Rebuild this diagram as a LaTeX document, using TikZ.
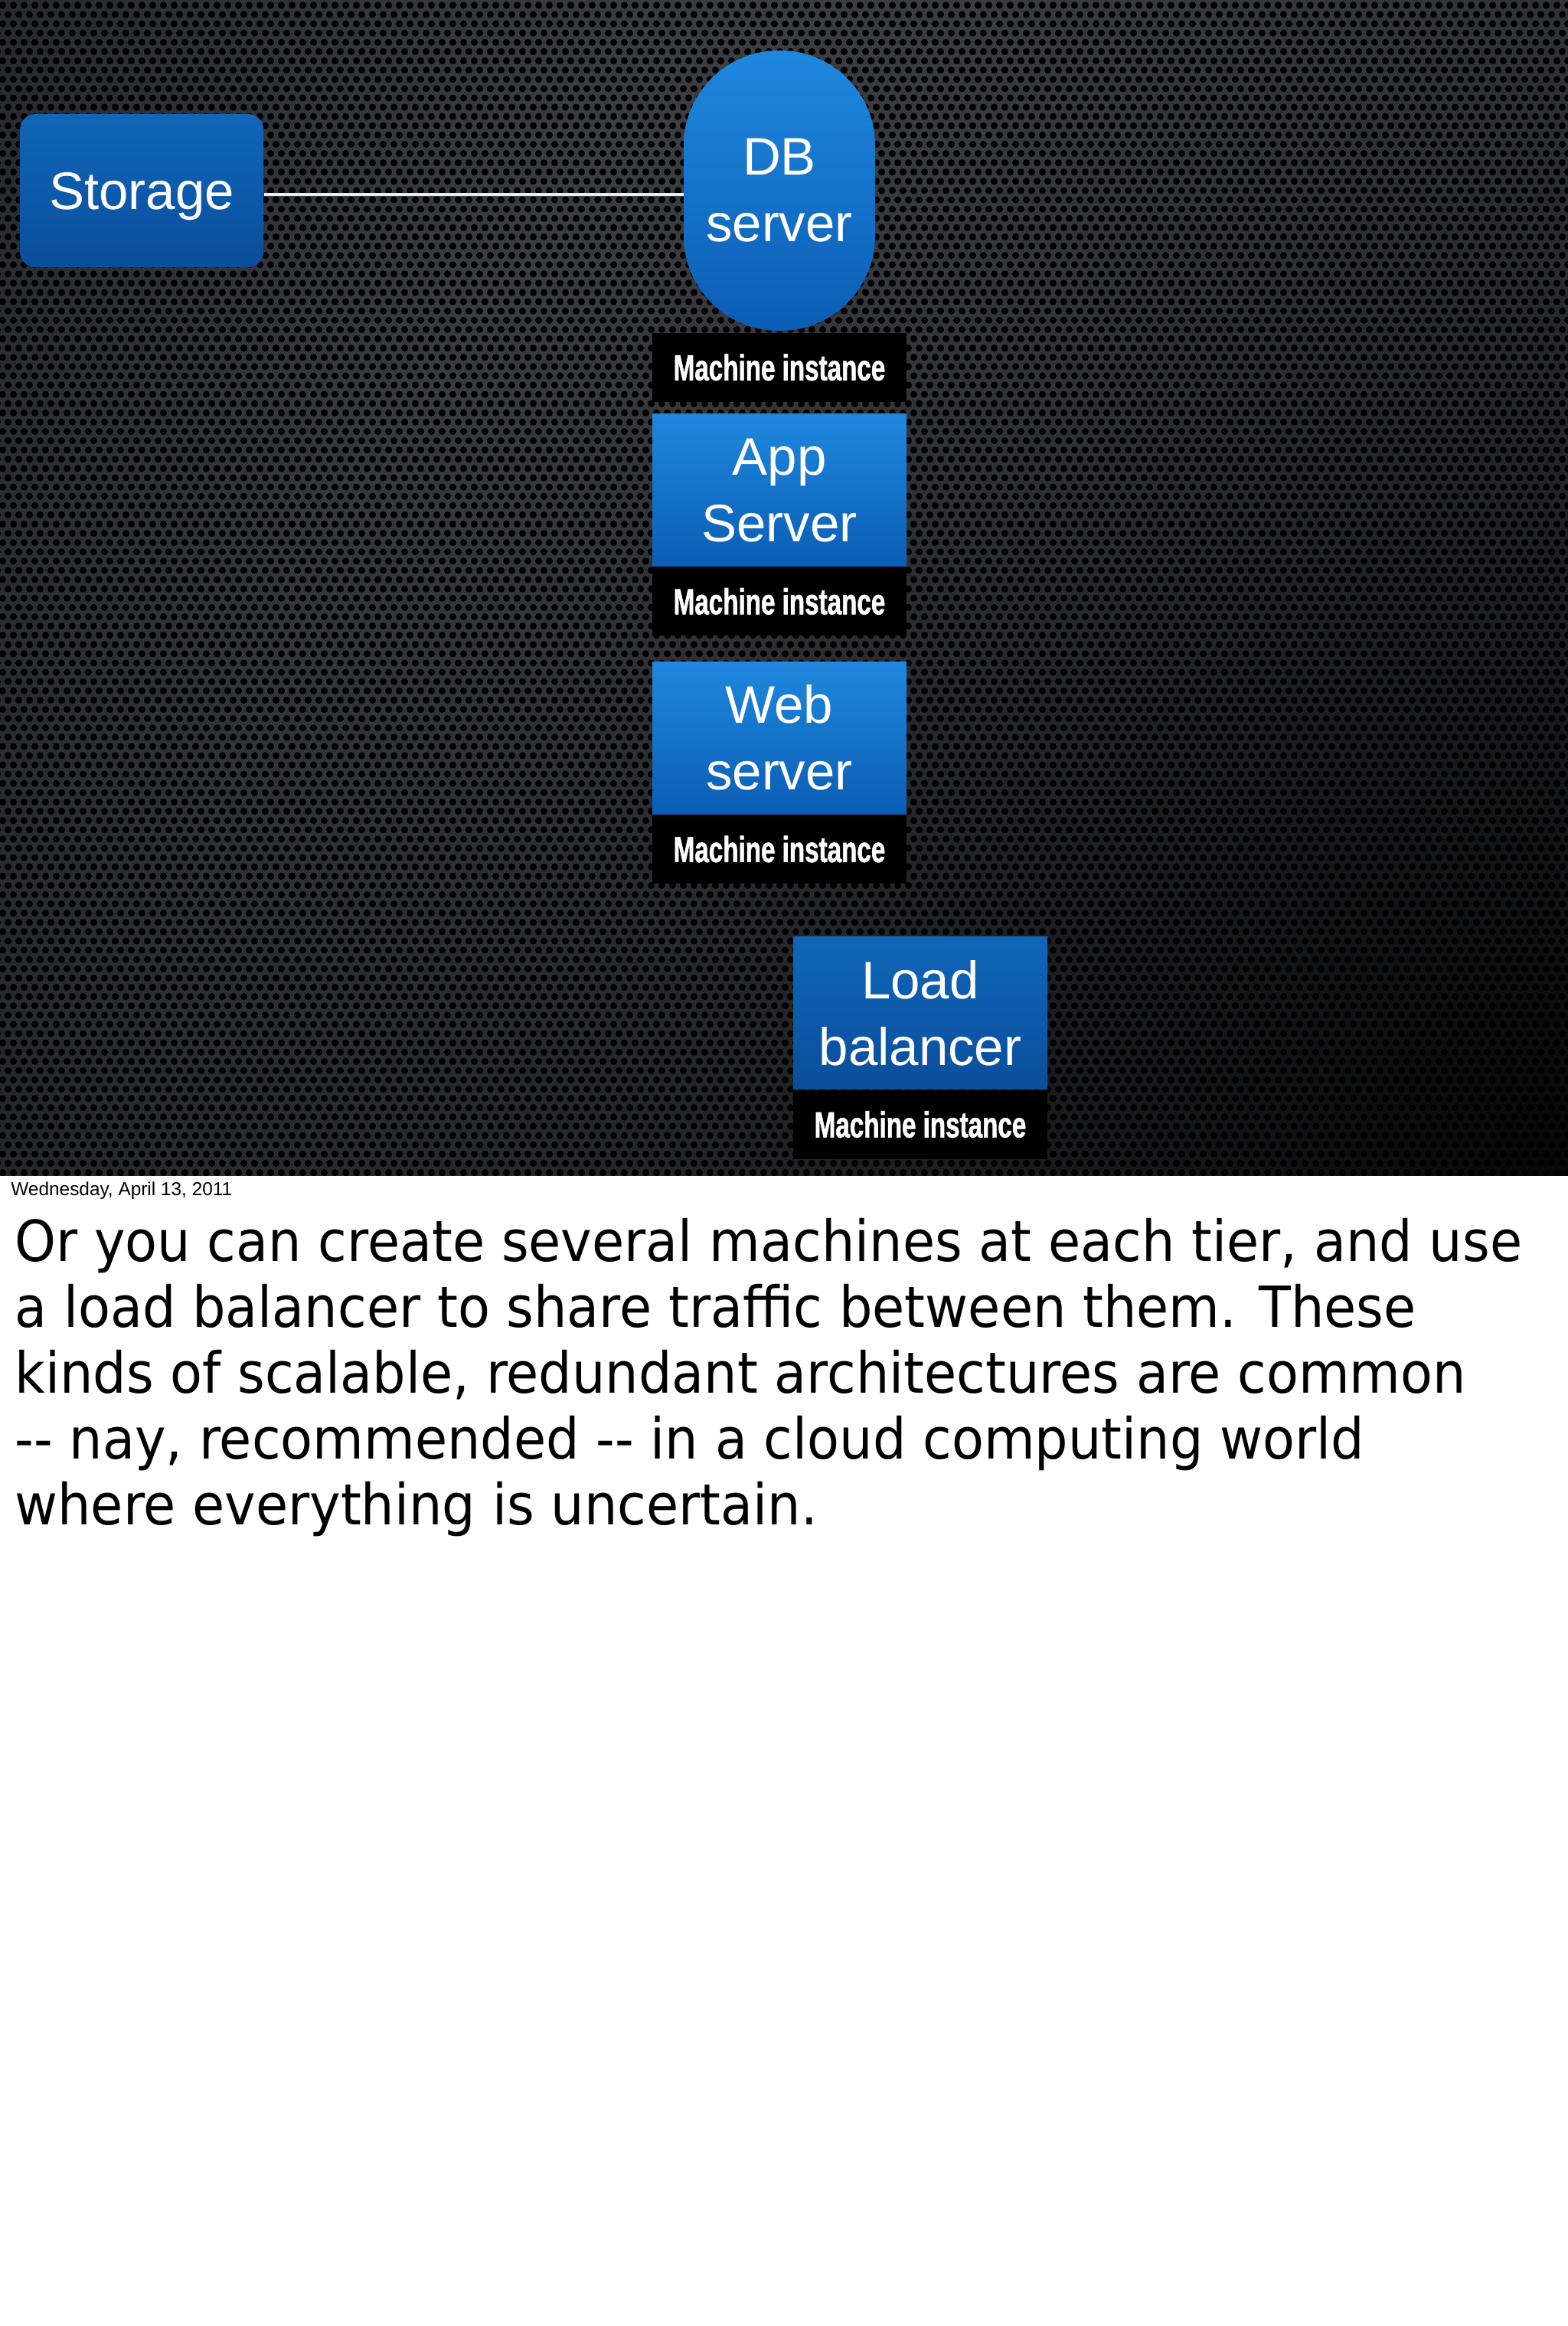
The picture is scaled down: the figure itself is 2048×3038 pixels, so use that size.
\documentclass[tikz,border=0pt]{standalone}
\usepackage{fontspec}
\setmainfont{Liberation Sans}
\newfontfamily\notefont[FakeStretch=0.926]{DejaVu Sans}
\newfontfamily\condfont[FakeStretch=0.70,FakeBold=1.2]{Liberation Sans}
\usetikzlibrary{positioning,patterns.meta,fadings}

\definecolor{bluetop}{HTML}{1E88DE}
\definecolor{bluebot}{HTML}{0B5DB4}
\definecolor{deeptop}{HTML}{1066B8}
\definecolor{deepbot}{HTML}{0A4E9C}
\definecolor{met0}{HTML}{46474B}
\definecolor{met1}{HTML}{3B3C40}
\definecolor{met2}{HTML}{27282B}
\definecolor{met3}{HTML}{151617}
\definecolor{met4}{HTML}{09090A}
\definecolor{met5}{HTML}{040404}

\pgfdeclareradialshading{metal}{\pgfpoint{0bp}{0bp}}{color(0bp)=(met0); color(10bp)=(met1);
  color(20bp)=(met2); color(30bp)=(met3); color(40bp)=(met4); color(50bp)=(met5)}
\tikzfading[name=glow,inner color=transparent!0,outer color=transparent!100]

\tikzdeclarepattern{
  name=holes,
  type=uncolored,
  bounding box={(-1pt,-1pt) and (8pt,13.1pt)},
  tile size={(7pt,12.1pt)},
  code={
    \fill (1.75pt,3.03pt) circle (2.3pt);
    \fill (5.25pt,9.08pt) circle (2.3pt);
  }
}

\begin{document}
\begin{tikzpicture}[x=0.5pt,y=-0.5pt,node distance=8pt,
  tier/.style={rectangle,top color=bluetop,bottom color=bluebot,text=white,align=center,inner sep=0pt,
    minimum width=166pt,minimum height=99.5pt,font=\fontsize{34.5}{43.5}\selectfont},
  deep/.style={tier,top color=deeptop,bottom color=deepbot},
  mi/.style={fill=black,text=white,inner sep=0pt,minimum width=166pt,minimum height=45pt,
    font=\condfont\bfseries\fontsize{23.7}{28}\selectfont},
  conn/.style={draw=white!92!black,line width=2pt}]

  \useasboundingbox (0,0) rectangle (2048,3038);
  \fill[white] (0,0) rectangle (2048,3038);
  \begin{scope}
    \clip (0,0) rectangle (2048,1535);
    \shade[shading=metal] (1400,600) circle (2000);
    \fill[pattern=holes,pattern color=black] (0,0) rectangle (2048,1535);
    \fill[black,fill opacity=0.85,path fading=glow] (2048,1535) circle (1800);
  \end{scope}

  \node[tier,rounded corners=62pt,minimum width=125pt,minimum height=183pt] (db) at (1018,249) {DB\\server};
  \node[deep,rounded corners=10pt,minimum width=159pt,minimum height=100pt,text depth=0pt] (storage) [left=274pt of db] {Storage};
  \node[mi] (dbmi) [below=1pt of db] {Machine instance};
  \node[tier] (app) [below=7.5pt of dbmi] {App\\Server};
  \node[mi] (appmi) [below=0pt of app] {Machine instance};
  \node[tier] (web) [below=16.5pt of appmi] {Web\\server};
  \node[mi] (webmi) [below=0pt of web] {Machine instance};
  \node[deep] (lb) [below=34.5pt of webmi,xshift=92pt] {Load\\balancer};
  \node[mi] (lbmi) [below=0pt of lb] {Machine instance};

  \draw[conn] ([yshift=-2.5pt]storage.east) -- ([yshift=-2.5pt]db.west);

  \node[anchor=base west,inner sep=0pt,font=\fontsize{12.2}{14}\selectfont] (date) at (14,1561) {Wednesday, April 13, 2011};
  \node[anchor=north west,inner sep=0pt,align=left,font=\notefont\fontsize{37}{43}\selectfont] (notes) at (19,1591)
    {Or you can create several machines at each tier, and use\\
     a load balancer to share traffic between them. These\\
     kinds of scalable, redundant architectures are common\\
     -{}- nay, recommended -{}- in a cloud computing world\\
     where everything is uncertain.};
\end{tikzpicture}
\end{document}
